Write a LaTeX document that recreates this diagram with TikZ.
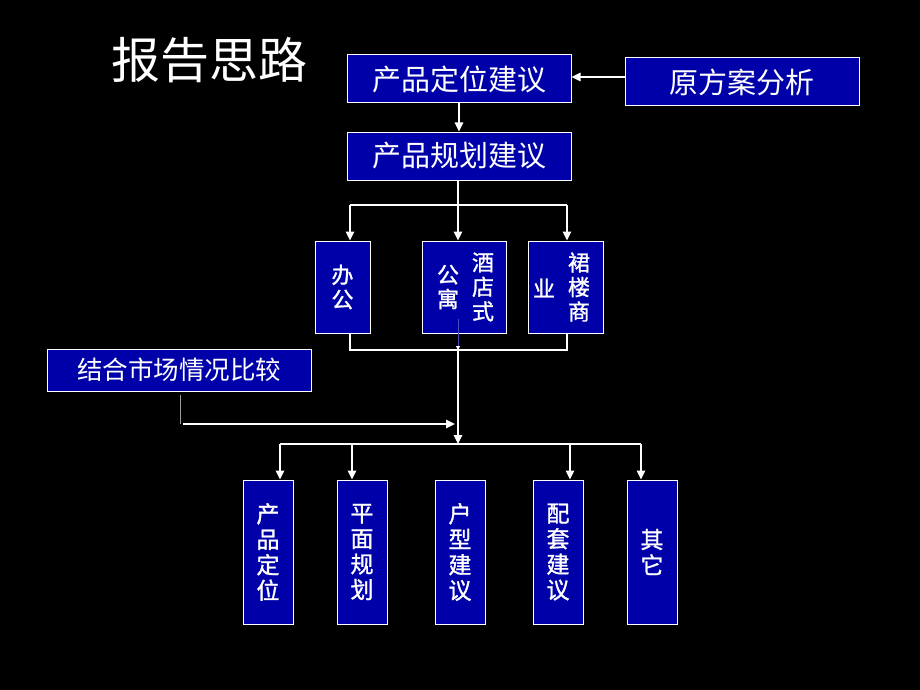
\documentclass[tikz,border=0pt]{standalone}
\usepackage{fontspec}
\newfontfamily\cjk{Noto Sans CJK SC}
\newfontfamily\cjkb{Noto Sans CJK SC}[FakeBold=1.2]
\usetikzlibrary{arrows.meta}
\definecolor{boxblue}{RGB}{0,0,168}

\tikzset{
  box/.style={draw=white, fill=boxblue, line width=1pt, inner sep=0pt, text=white},
  link/.style={white, line width=1.2pt},
  hbox/.style={box, font=\cjk\fontsize{29}{29}\selectfont},
  vtext/.style={text=white, align=center, inner sep=0pt, font=\cjkb\fontsize{22}{24.5}\selectfont},
  vbox/.style={box, align=center, minimum width=50pt, minimum height=144pt, font=\cjkb\fontsize{23}{25.5}\selectfont},
}

\begin{document}
\begin{tikzpicture}[x=1pt, y=-1pt, >={Triangle[length=9pt,width=8.5pt]}]
  \fill[black] (0,0) rectangle (920,690);
  \node[text=white, font=\cjk\fontsize{49}{49}\selectfont] (title) at (209,60) {报告思路};

  % top row
  \node[hbox, minimum width=224pt, minimum height=48pt] (dw) at (459,79) {产品定位建议};
  \node[hbox, minimum width=234pt, minimum height=48pt] (yf) at (742,82) {原方案分析};
  \node[hbox, minimum width=224pt, minimum height=48pt] (gh) at (459,156) {产品规划建议};
  \draw[link,->] (yf.west |- 0,77) -- (dw.east |- 0,77);
  \draw[link,->] (dw.south) -- (gh.north);

  % property types
  \node[box, minimum width=55pt, minimum height=92pt] (bg) at (342.5,287) {};
  \node[vtext] (bg-t) at (bg) {办\\公};
  \node[box, minimum width=84pt, minimum height=92pt] (gy) at (464,287) {};
  \node[vtext] (gy-r) at (483,287) {酒\\店\\式};
  \node[vtext] (gy-l) at (448,287) {公\\寓};
  \node[box, minimum width=75pt, minimum height=92pt] (qs) at (565.5,287) {};
  \node[vtext] (qs-r) at (579,287) {裙\\楼\\商};
  \node[vtext] (qs-l) at (544,288) {业};

  \coordinate (b-bg) at (350,205);
  \coordinate (b-gy) at (458,205);
  \coordinate (b-qs) at (567,205);
  \draw[link] (gh.south -| b-gy) -- (b-gy);
  \draw[link] (b-bg) -- (b-qs);
  \draw[link,->] (b-bg) -- (b-bg |- bg.north);
  \draw[link,->] (b-gy) -- (b-gy |- gy.north);
  \draw[link,->] (b-qs) -- (b-qs |- qs.north);

  % merge below
  \coordinate (m-bg) at (350,350);
  \coordinate (m-gy) at (458,350);
  \coordinate (m-qs) at (567,350);
  \draw[link] (bg.south -| m-bg) -- (m-bg) -- (m-qs) -- (qs.south -| m-qs);
  \draw[boxblue!70!white, line width=0.8pt, -{Triangle[white,length=4pt,width=4pt]}]
    ([yshift=15pt]gy.south -| m-gy) -- (m-gy);

  % market comparison
  \node[box, minimum width=264pt, minimum height=42pt, font=\cjk\fontsize{25.5}{25.5}\selectfont] (sc) at (179,370) {结合市场情况比较};
  \coordinate (sc-b) at (180,395);
  \coordinate (sc-a) at (180,424);
  \coordinate (b2) at (458,444);
  \draw[gray!80, line width=0.8pt] (sc-b) -- (sc-a);
  \draw[link,->,shorten >=3pt] ([xshift=3pt]sc-a) -- (sc-a -| b2);
  \draw[link,->] (m-gy) -- (b2);

  % suggestions
  \node[vbox] (cp) at (268,552) {产\\品\\定\\位};
  \node[vbox] (pm) at (362,552) {平\\面\\规\\划};
  \node[vbox] (hx) at (460,552) {户\\型\\建\\议};
  \node[vbox] (pt) at (558,552) {配\\套\\建\\议};
  \node[vbox] (qt) at (652,552) {其\\它};

  \coordinate (b-cp) at (280,444);
  \coordinate (b-pm) at (352,444);
  \coordinate (b-pt) at (570,444);
  \coordinate (b-qt) at (641,444);
  \draw[link] (b-cp) -- (b-qt);
  \draw[link,->] (b-cp) -- (b-cp |- cp.north);
  \draw[link,->] (b-pm) -- (b-pm |- pm.north);
  \draw[link,->] (b-pt) -- (b-pt |- pt.north);
  \draw[link,->] (b-qt) -- (b-qt |- qt.north);
\end{tikzpicture}
\end{document}
